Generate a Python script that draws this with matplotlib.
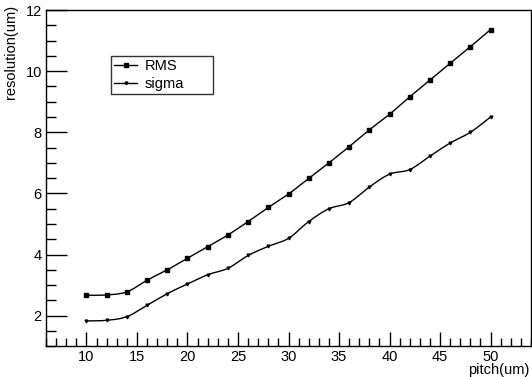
import numpy as np
import matplotlib
matplotlib.use("Agg")
import matplotlib.pyplot as plt
from matplotlib.ticker import MultipleLocator

# values
pitch = [10, 12, 14, 16, 18, 20, 22, 24, 26, 28, 30, 32, 34, 36, 38, 40, 42, 44, 46, 48, 50]
rms = [2.67, 2.68, 2.78, 3.16, 3.50, 3.88, 4.26, 4.64, 5.08, 5.54, 5.98,
       6.49, 7.00, 7.53, 8.08, 8.59, 9.16, 9.71, 10.26, 10.80, 11.36]
sigma = [1.83, 1.85, 1.97, 2.34, 2.72, 3.04, 3.34, 3.55, 3.97, 4.27, 4.53,
         5.08, 5.50, 5.70, 6.21, 6.63, 6.78, 7.22, 7.65, 8.00, 8.50]


def smooth(x, y, n=12):
    # Catmull-Rom curve through the points (like ROOT's "C" option)
    x = np.asarray(x, float)
    y = np.asarray(y, float)
    px = np.concatenate([[2 * x[0] - x[1]], x, [2 * x[-1] - x[-2]]])
    py = np.concatenate([[2 * y[0] - y[1]], y, [2 * y[-1] - y[-2]]])
    t = np.linspace(0, 1, n, endpoint=False)
    xs, ys = [], []
    for i in range(1, len(px) - 2):
        for p, out in ((px, xs), (py, ys)):
            p0, p1, p2, p3 = p[i - 1], p[i], p[i + 1], p[i + 2]
            out.append(0.5 * (2 * p1 + (-p0 + p2) * t
                              + (2 * p0 - 5 * p1 + 4 * p2 - p3) * t ** 2
                              + (-p0 + 3 * p1 - 3 * p2 + p3) * t ** 3))
    xs.append([x[-1]])
    ys.append([y[-1]])
    return np.concatenate(xs), np.concatenate(ys)


plt.rcParams['font.family'] = ['Liberation Sans', 'DejaVu Sans']
fs = 10.5

fig = plt.figure(figsize=(5.32, 3.77), dpi=100)
ax = fig.add_axes([46 / 532, 1 - 346.3 / 377, 485 / 532, 336.3 / 377])

for ys, mk, ms, lab in ((rms, 's', 2.6, 'RMS'), (sigma, 'v', 2.0, 'sigma')):
    sx, sy = smooth(pitch, ys)
    ax.plot(sx, sy, color='black', lw=1.0)
    ax.plot(pitch, ys, ls='none', marker=mk, ms=ms, color='black')
    ax.plot([], [], color='black', lw=1.0, marker=mk, ms=ms, label=lab)

ax.set_xlim(6, 54)
ax.set_ylim(1, 12)
ax.xaxis.set_major_locator(MultipleLocator(5))
ax.xaxis.set_minor_locator(MultipleLocator(1))
ax.yaxis.set_major_locator(MultipleLocator(2))
ax.yaxis.set_minor_locator(MultipleLocator(0.5))
ax.tick_params(which='both', direction='in', top=False, right=False, labelsize=fs, width=1)
ax.tick_params(axis='x', which='major', length=10, pad=3)
ax.tick_params(axis='x', which='minor', length=6)
ax.tick_params(axis='y', which='major', length=15, pad=3)
ax.tick_params(axis='y', which='minor', length=7)
for s in ax.spines.values():
    s.set_linewidth(1)

ax.set_xlabel('pitch(um)', fontsize=fs, ha='right')
ax.xaxis.set_label_coords(0.997, -0.05)
ax.set_ylabel('resolution(um)', fontsize=fs, ha='right')
ax.yaxis.set_label_coords(-0.058, 1.015)

leg = ax.legend(loc='upper left', bbox_to_anchor=(0.134, 0.735, 0.21, 0.128),
                mode='expand', fontsize=fs, frameon=True, fancybox=False,
                handlelength=1.6, handletextpad=0.5, borderpad=0.2,
                labelspacing=0.25, borderaxespad=0)
leg.get_frame().set_edgecolor('black')
leg.get_frame().set_linewidth(1)

plt.savefig('out.png', dpi=100)
